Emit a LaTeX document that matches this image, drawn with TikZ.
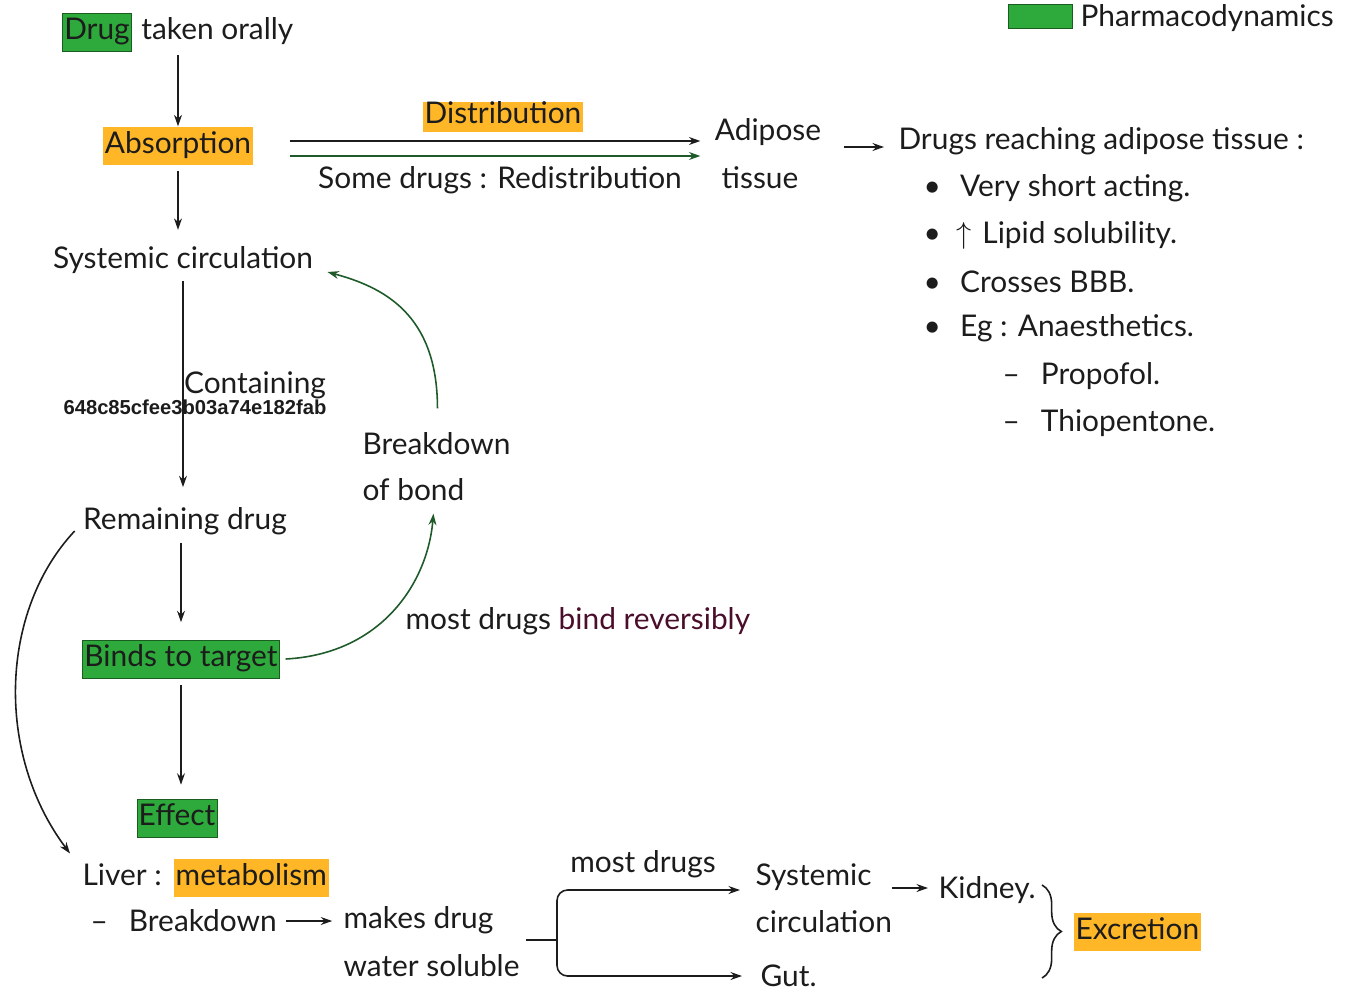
\documentclass[tikz,border=0pt]{standalone}
\usepackage{fontspec}
\setmainfont{Lato}
\newfontfamily\codefont{Liberation Sans}
\usetikzlibrary{arrows.meta,positioning,calc,decorations.pathreplacing}
\definecolor{NoteGreen}{HTML}{2DAA3B}
\definecolor{NoteOrange}{HTML}{FFB727}
\definecolor{NoteGreenDark}{HTML}{1E5A2A}
\definecolor{NoteMaroon}{HTML}{4A0D2A}
\definecolor{NoteInk}{HTML}{1C1C1C}
\tikzset{
  hl/.style={text height=12.5pt,text depth=4pt,inner xsep=1pt,inner ysep=2.5pt},
  greenhl/.style={hl,fill=NoteGreen,draw=NoteGreen!55!black,line width=0.4pt},
  orangehl/.style={hl,fill=NoteOrange},
}

\begin{document}
\begin{tikzpicture}[>={Stealth[length=6.5pt,width=4.5pt]},x=0.02cm,y=-0.02cm,line width=0.9pt,NoteInk,
  every node/.style={font=\fontsize{17}{20}\selectfont,text=NoteInk,inner sep=1pt}]
\useasboundingbox (0,0) rectangle (1351,1000);
% legend
\node[fill=NoteGreen,draw=NoteGreen!55!black,line width=0.4pt,minimum width=1.28cm,minimum height=0.48cm] (legbox) at (1040,16) {};
\node[anchor=west] (pharma) at (1078,18) {Pharmacodynamics};
% main column
\node[greenhl] (drug) at (97,32) {Drug};
\node[anchor=base west] (oral) at ([xshift=4pt]drug.base east) {taken orally};
\node[orangehl] (absorb) at (178,146) {Absorption};
\node (syscirc) at (183,260) {Systemic circulation};
\node (contain) at (255,385) {Containing};
\node[font=\codefont\bfseries\fontsize{11.5}{13}\selectfont] (code) at (195,407) {648c85cfee3b03a74e182fab};
\node (remain) at (185,521) {Remaining drug};
\node[greenhl] (binds) at (181,659) {Binds to target};
\node[greenhl] (effect) at (177,818) {Effect};
\node[anchor=west] (liver) at (80,875) {Liver :};
\node[orangehl,anchor=base west] (metab) at ([xshift=5pt]liver.base east) {metabolism};
\node[anchor=west] (brkdn) at (88,921) {--\hspace{12pt}Breakdown};
\node[anchor=west] (makes) at (341,920) {makes drug};
\node[anchor=west] (water) at (341,966) {water soluble};
\draw[->] (drug.south east -| absorb) ++(0,4) -- (absorb.north);
\draw[->,shorten <=3pt,shorten >=8pt] (absorb.south) -- (absorb |- syscirc.north);
\draw[->,shorten <=3pt,shorten >=10pt] (syscirc.south) -- (syscirc.south |- remain.north);
\draw[->,shorten <=3pt,shorten >=10pt] (remain.south -| binds) -- (binds.north);
\draw[->,shorten <=4pt,shorten >=8pt] (binds.south) -- (binds.south |- effect.north);
\draw[->] ($(remain.west)+(-6,10)$) .. controls +(-75,80) and +(-75,-100) .. ($(liver.north west)+(-10,-8)$);
\draw[->,shorten <=4pt,shorten >=5pt] (brkdn.east) -- (brkdn.east -| makes.west);
% breakdown of bond loop
\node[anchor=west] (bond1) at (360,444) {Breakdown};
\node[anchor=west] (bond2) at (360,490) {of bond};
\node[anchor=west] (revers) at (403,621) {most drugs \textcolor{NoteMaroon}{bind reversibly}};
\draw[->,NoteGreenDark] ($(bond1.north)+(1,-22)$) .. controls +(0,-95) and +(55,15) .. ($(syscirc.east)+(12,12)$);
\draw[->,NoteGreenDark] ($(binds.east)+(6,0)$) .. controls +(95,-5) and +(-6,70) .. ($(bond2.south)+(20,10)$);
% distribution
\node[orangehl,text height=11pt,text depth=3.5pt,inner ysep=1.5pt] (distr) at (503,117) {Distribution};
\node (redistr) at (500,180) {Some drugs : Redistribution};
\node (adipose) at (768,132) {Adipose};
\node (tissue) at (760,178) {tissue};
\draw[->] ($(absorb.east)+(36,-5)$) -- ($(absorb.east -| adipose.west)+(-12,-5)$);
\draw[->,NoteGreenDark] ($(absorb.east)+(36,10)$) -- ($(absorb.east -| adipose.west)+(-12,10)$);
\node[anchor=west] (reach) at (896,141) {Drugs reaching adipose tissue :};
\draw[->] ($(adipose.east)+(20,15)$) -- ($(reach.west)+(-12,6)$);
\node[anchor=west] (pt1) at (921,188) {\textbullet\hspace{11pt}Very short acting.};
\node[anchor=west] (pt2) at (921,235) {\textbullet\hspace{9pt}$\uparrow$\hspace{6pt}Lipid solubility.};
\node[anchor=west] (pt3) at (921,282) {\textbullet\hspace{11pt}Crosses BBB.};
\node[anchor=west] (pt4) at (921,328) {\textbullet\hspace{11pt}Eg : Anaesthetics.};
\node[anchor=west] (prop) at (1000,376) {--\hspace{12pt}Propofol.};
\node[anchor=west] (thio) at (1000,423) {--\hspace{12pt}Thiopentone.};
% excretion
\coordinate (splitin) at (526,940);
\coordinate (split) at (557,940);
\node (mostd) at (643,864) {most drugs};
\node[anchor=west] (sysc2) at (753,877) {Systemic};
\node[anchor=west] (circ2) at (753,922) {circulation};
\node[anchor=west] (gut) at (758,976) {Gut.};
\node[anchor=west] (kidney) at (936,890) {Kidney.};
\node[orangehl,anchor=west] (excr) at (1073,932) {Excretion};
\draw (splitin) -- (split);
\draw[->,rounded corners=6pt] (split) |- ($(sysc2.west)+(-13,13)$);
\draw[->,rounded corners=6pt] (split) |- ($(gut.west)+(-16,0)$);
\draw[->] ($(sysc2.east)+(18,11)$) -- ($(kidney.west)+(-8,-2)$);
\draw[decorate,decoration={brace,amplitude=11pt,aspect=0.5}] (1042,885) -- (1042,978);
\end{tikzpicture}
\end{document}
